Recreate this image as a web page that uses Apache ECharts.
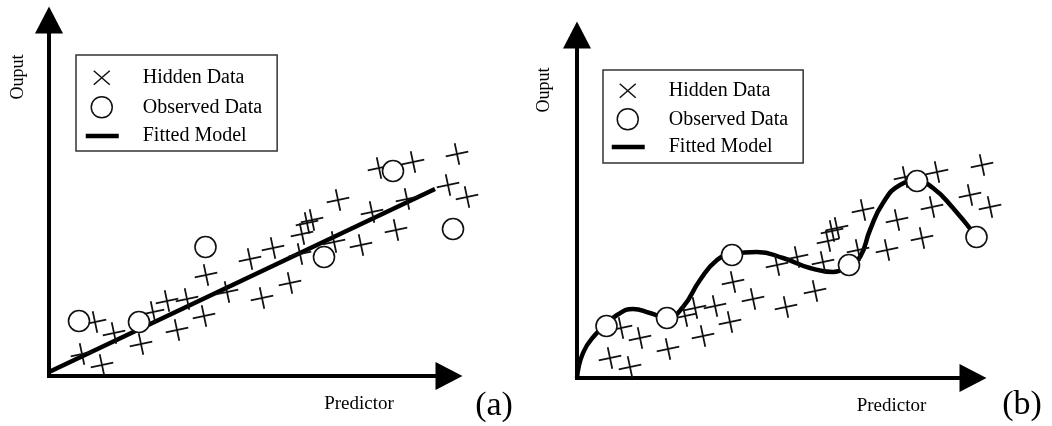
<!DOCTYPE html>
<html>
<head>
<meta charset="utf-8">
<script src="https://cdn.jsdelivr.net/npm/echarts@6/dist/echarts.min.js"></script>
<style>
  html, body { margin: 0; padding: 0; background: #fff; }
  #chart { width: 1052px; height: 426px; }
</style>
</head>
<body>
<div id="chart"></div>
<script>
// ---- Data (x = predictor, y = output) ----
// Panel (a)
const hiddenA = [
  [33,22],[53,11],[46,54],[65,43],[92,32],[104,64],[118,75],[138,77],[128,46],
  [155,60],[157,101],[178,84],[201,117],[213,78],[224,128],[241,93],[251,122],
  [253,142],[258,153],[263,156],[289,176],[285,134],[312,131],[323,164],[347,146],
  [358,177],[330,208],[364,214],[408,222],[399,191],[418,179]
];
const observedA = [[30,55],[90,54],[156.5,129],[275,119],[344,205],[404,147]];
const fittedA = [[0,4],[386,187]];

// Panel (b)
const hiddenB = [
  [33,20],[53,11],[44,50],[63,40],[91,29],[108,62],[118,70],[138,72],[126,42],
  [153,56],[156,96],[176,79],[200,113],[209,71],[220,121],[238,87],[246,116],
  [251,137],[255,147],[260,150],[286,168],[281,128],[310,128],[320,158],[345,140],
  [355,171],[328,201],[360,206],[405,213],[393,183],[413,171]
];
const observedB = [[29.5,52],[90,60],[155,123],[272,113],[340,197],[399.5,141]];
const fittedB = [
  [0,0],[6,25],[18,43],[29.5,53],[40,63],[56,69],[73,65],[90,60],[106,71],
  [123,98],[140,118],[155,124],[180,126],[206,120],[233,110],[256,106],[272,113],
  [283,121],[293,148],[306,175],[323,193],[340,197],[356,190],[376,170],[399.5,141]
];

// ---- Texts ----
const seriesNames = ['Hidden Data', 'Observed Data', 'Fitted Model'];
const yName = 'Ouput';
const xName = 'Predictor';
const panelTags = ['(a)', '(b)'];

const FONT = '"Liberation Serif", "Times New Roman", serif';
const PLUS = 'path://M0,11L23,11M11.5,0L11.5,22';
const ICON_X = 'path://M0,0M56,22M12,4L28,18M28,4L12,18';
const ICON_O = 'path://M0,0M56,22M30.5,11A10.5,10.5,0,1,1,9.5,11A10.5,10.5,0,1,1,30.5,11Z';
const ICON_L = 'path://M0,0M56,22M4,8.75L37,8.75L37,13.25L4,13.25Z';

function makeAxis(idx, max) {
  return {
    type: 'value', gridIndex: idx, min: 0, max: max,
    axisLine: { show: true, onZero: false, symbol: ['none', 'triangle'], symbolSize: [28, 27],
      lineStyle: { color: '#000', width: 4, cap: 'square' } },
    axisTick: { show: false }, axisLabel: { show: false }, splitLine: { show: false }
  };
}

function makeLegend(left, top, padding, gap) {
  return {
    orient: 'vertical', left: left, top: top, padding: padding, itemGap: gap,
    itemWidth: 56, itemHeight: 22, selectedMode: false,
    borderColor: '#333', borderWidth: 1.5, backgroundColor: '#fff',
    textStyle: { fontFamily: FONT, fontSize: 20, color: '#000', lineHeight: 22 },
    data: [
      { name: seriesNames[0], icon: ICON_X, itemStyle: { color: 'transparent', borderColor: '#111', borderWidth: 1.5 } },
      { name: seriesNames[1], icon: ICON_O, itemStyle: { color: '#fff', borderColor: '#111', borderWidth: 1.5 } },
      { name: seriesNames[2], icon: ICON_L, itemStyle: { color: '#000', borderWidth: 0 } }
    ]
  };
}

function makeSeries(idx, hidden, observed, fitted, smooth) {
  return [
    { name: seriesNames[2], type: 'line', xAxisIndex: idx, yAxisIndex: idx, data: fitted,
      smooth: smooth, symbol: 'none', clip: false, z: 2,
      lineStyle: { color: '#000', width: 4.5 }, itemStyle: { color: '#000' } },
    { name: seriesNames[0], type: 'scatter', xAxisIndex: idx, yAxisIndex: idx, data: hidden,
      symbol: PLUS, symbolSize: [23, 22], symbolRotate: 12, clip: false, z: 3,
      itemStyle: { color: 'transparent', borderColor: '#111', borderWidth: 1.7, opacity: 1 } },
    { name: seriesNames[1], type: 'scatter', xAxisIndex: idx, yAxisIndex: idx, data: observed,
      symbol: 'circle', symbolSize: 21, clip: false, z: 4,
      itemStyle: { color: '#fff', borderColor: '#111', borderWidth: 1.6, opacity: 1 } }
  ];
}

function label(text, x, y, size, rot) {
  return { type: 'text', x: x, y: y, rotation: rot || 0, z: 10,
    style: { text: text, font: size + 'px ' + FONT, fill: '#000',
      align: 'center', verticalAlign: 'middle', textAlign: 'center', textVerticalAlign: 'middle' } };
}

const chart = echarts.init(document.getElementById('chart'), null, { renderer: 'canvas' });
chart.setOption({
  animation: false,
  backgroundColor: '#fff',
  grid: [
    { left: 49, top: 20, width: 400, height: 356 },
    { left: 577, top: 35, width: 396, height: 343 }
  ],
  xAxis: [makeAxis(0, 400), makeAxis(1, 396)],
  yAxis: [makeAxis(0, 356), makeAxis(1, 343)],
  legend: [
    makeLegend(76, 55, [11, 15, 4, 5], 6),
    makeLegend(603, 70, [9, 15, 5, 4], 5)
  ],
  series: [].concat(
    makeSeries(0, hiddenA, observedA, fittedA, false),
    makeSeries(1, hiddenB, observedB, fittedB, 0.5)
  ),
  graphic: [
    label(yName, 18, 77, 18, Math.PI / 2),
    label(yName, 544, 90, 18, Math.PI / 2),
    label(xName, 359, 404, 19),
    label(xName, 891.5, 406, 19),
    label(panelTags[0], 494, 406, 34),
    label(panelTags[1], 1022, 405, 34)
  ]
});
</script>
</body>
</html>
